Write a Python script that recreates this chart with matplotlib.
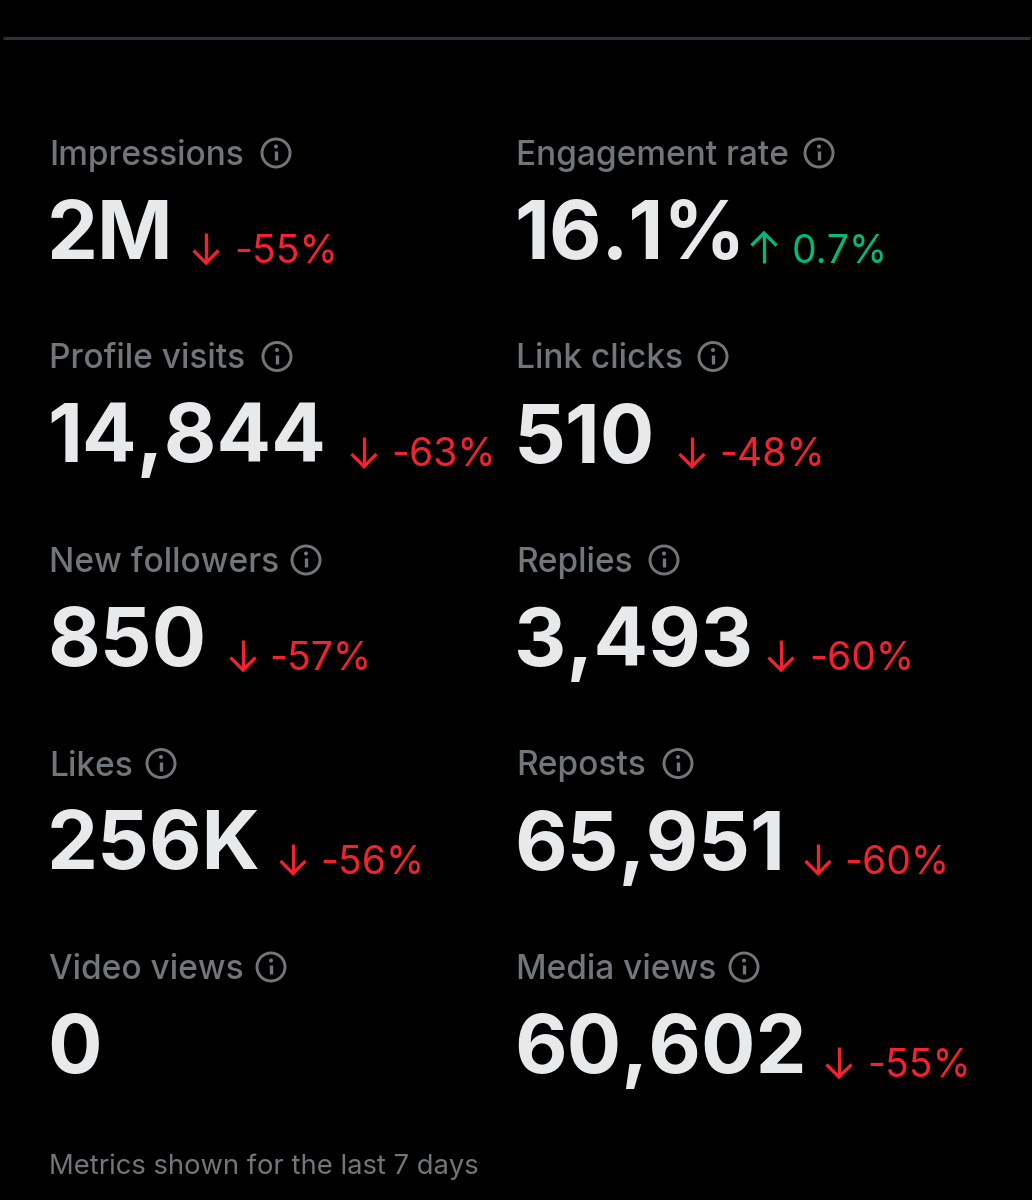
import matplotlib
matplotlib.use("Agg")
import matplotlib.pyplot as plt
from matplotlib.patches import Circle

labels_left = ["Impressions", "Profile visits", "New followers", "Likes", "Video views"]
values_left = ["2M", "14,844", "850", "256K", "0"]
deltas_left = ["-55%", "-63%", "-57%", "-56%", None]
labels_right = ["Engagement rate", "Link clicks", "Replies", "Reposts", "Media views"]
values_right = ["16.1%", "510", "3,493", "65,951", "60,602"]
deltas_right = ["0.7%", "-48%", "-60%", "-60%", "-55%"]
footer = "Metrics shown for the last 7 days"

# layout (pixels)
icon_left = [276, 277, 306, 161, 271]
icon_right = [819, 713, 664, 678, 744]
arrow_left = [206, 364, 243, 293, None]
arrow_right = [764, 692, 781, 818, 839]
dtext_left = [234, 391, 269, 320, None]
dtext_right = [792, 719, 809, 844, 867]

BG = "#000000"; GREY = "#71767B"; WHITE = "#E7E9EA"; RED = "#F4212E"; GREEN = "#00BA7C"
FONT = ["Inter", "DejaVu Sans"]
px = 0.72

fig = plt.figure(figsize=(10.32, 12), dpi=100, facecolor=BG)
ax = fig.add_axes([0, 0, 1, 1], facecolor=BG)
ax.set_xlim(0, 1032); ax.set_ylim(1200, 0); ax.axis("off")

ax.plot([3, 1030], [38, 38], color="#2F3336", lw=2.2, solid_capstyle="butt")

def icon(cx, cy):
    ax.add_patch(Circle((cx, cy), 14, fill=False, ec=GREY, lw=2.1))
    ax.plot([cx, cx], [cy - 2, cy + 7], color=GREY, lw=2.4, solid_capstyle="butt")
    ax.add_patch(Circle((cx, cy - 6.5), 2, fc=GREY, ec="none"))

def arrow(cx, base, up, color):
    top, bot = base - 30, base
    tip = top if up else bot
    s = 1 if up else -1
    ax.plot([cx, cx], [top, bot], color=color, lw=2.4, solid_capstyle="butt")
    ax.plot([cx - 12.5, cx, cx + 12.5], [tip + s * 12.5, tip, tip + s * 12.5], color=color, lw=2.4,
            solid_joinstyle="miter", solid_capstyle="butt")

def cell(x, row, label, value, delta, ix, ax_x, dx):
    y0 = 165 + row * 203.5
    ax.text(x - 1, y0, label, color=GREY, fontsize=33.4 * px, family=FONT, va="baseline", fontweight="medium")
    icon(ix, y0 - 12)
    ax.text(x - 3, y0 + 94, value, color=WHITE, fontsize=81 * px, family=FONT,
            fontweight="bold", va="baseline")
    if delta is None:
        return
    up = not delta.startswith("-")
    color = GREEN if up else RED
    arrow(ax_x, y0 + 98, up, color)
    ax.text(dx, y0 + 98, delta, color=color, fontsize=39 * px, family=FONT, va="baseline")

for r in range(5):
    cell(50, r, labels_left[r], values_left[r], deltas_left[r], icon_left[r], arrow_left[r], dtext_left[r])
    cell(517, r, labels_right[r], values_right[r], deltas_right[r], icon_right[r], arrow_right[r], dtext_right[r])

ax.text(49, 1174, footer, color=GREY, fontsize=27.4 * px, family=FONT, va="baseline")
fig.savefig("out.png", dpi=100, facecolor=BG)
